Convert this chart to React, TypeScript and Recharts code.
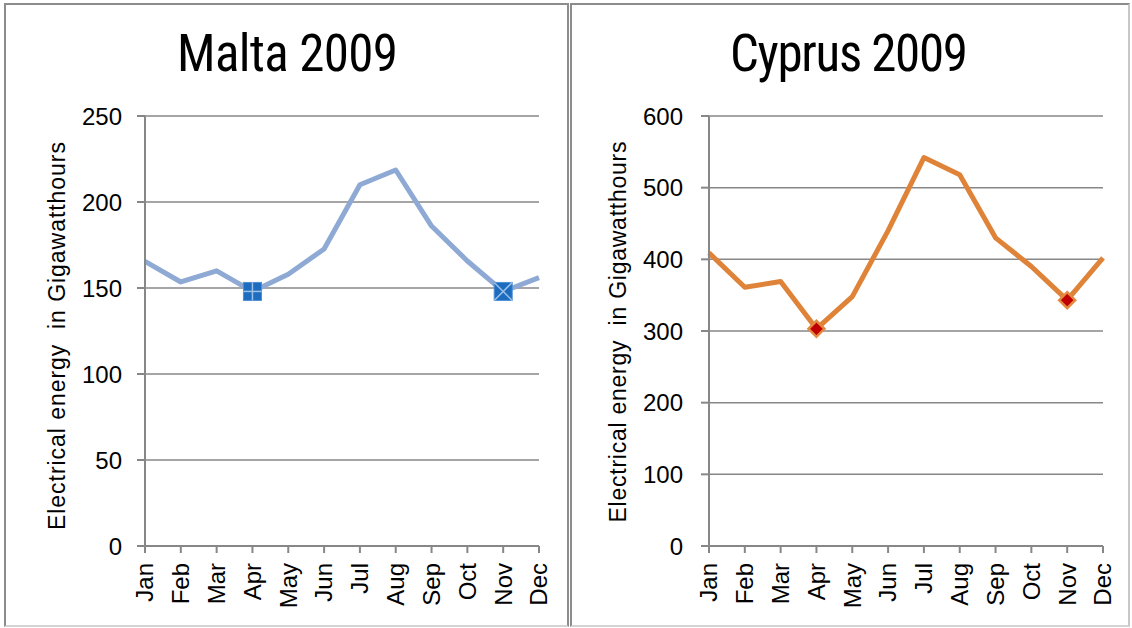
import React from 'react';
import { LineChart, Line, XAxis, YAxis, CartesianGrid } from 'recharts';

const months = ['Jan', 'Feb', 'Mar', 'Apr', 'May', 'Jun', 'Jul', 'Aug', 'Sep', 'Oct', 'Nov', 'Dec'];
const maltaValues = [165.5, 153.5, 160, 148, 158, 172.7, 210, 218.6, 186, 165.7, 148, 156];
const cyprusValues = [409, 361, 369, 303, 348, 440, 542, 518, 430, 390, 343, 402];
const maltaTicks = [0, 50, 100, 150, 200, 250];
const cyprusTicks = [0, 100, 200, 300, 400, 500, 600];
const maltaMarkers: Record<string, string> = { Apr: 'plus', Nov: 'cross' };
const cyprusMarked = ['Apr', 'Nov'];
const maltaTitle = 'Malta 2009';
const cyprusTitle = 'Cyprus 2009';
const yLabel = 'Electrical energy  in Gigawatthours';

const maltaData = months.map((m, i) => ({ month: m, value: maltaValues[i] }));
const cyprusData = months.map((m, i) => ({ month: m, value: cyprusValues[i] }));

const AXIS = '#878787';
const FONT = "'Liberation Sans', Arial, sans-serif";
const TITLE_FONT = "'Liberation Sans Narrow', 'Roboto Condensed', 'Liberation Sans', sans-serif";

const XTick = (props: any) => {
  const { x, y, payload } = props;
  return (
    <text
      x={x}
      y={y}
      transform={`rotate(-90 ${x} ${y})`}
      textAnchor="end"
      dy="0.35em"
      fontSize={24}
      fill="#000"
      fontFamily={FONT}
    >
      {payload.value}
    </text>
  );
};

const maltaDot = (props: any) => {
  const { cx, cy, payload, index } = props;
  const kind = maltaMarkers[payload.month];
  if (!kind || cx == null) return <g key={`md${index}`} />;
  const h = 9;
  return (
    <g key={`md${index}`}>
      <rect x={cx - h} y={cy - h} width={2 * h} height={2 * h} fill="#1C6DC0" stroke="#4d8fd3" strokeWidth={1} />
      {kind === 'plus' ? (
        <g stroke="#9fc0e6" strokeWidth={1.5}>
          <line x1={cx - h} y1={cy} x2={cx + h} y2={cy} />
          <line x1={cx} y1={cy - h} x2={cx} y2={cy + h} />
        </g>
      ) : (
        <g stroke="#9fc0e6" strokeWidth={1.5}>
          <line x1={cx - h} y1={cy - h} x2={cx + h} y2={cy + h} />
          <line x1={cx - h} y1={cy + h} x2={cx + h} y2={cy - h} />
        </g>
      )}
    </g>
  );
};

const cyprusDot = (props: any) => {
  const { cx, cy, payload, index } = props;
  if (!cyprusMarked.includes(payload.month) || cx == null) return <g key={`cd${index}`} />;
  const h = 8;
  return (
    <polygon
      key={`cd${index}`}
      points={`${cx},${cy - h} ${cx + h},${cy} ${cx},${cy + h} ${cx - h},${cy}`}
      fill="#C00000"
      stroke="#E38A3F"
      strokeWidth={2.5}
    />
  );
};

const Panel = ({ left, width, rightColor }: { left: number; width: number; rightColor: string }) => (
  <div
    style={{
      position: 'absolute',
      left,
      top: 3,
      width,
      height: 624,
      boxSizing: 'border-box',
      borderTop: '2px solid #8c8c8c',
      borderLeft: '2px solid #8c8c8c',
      borderRight: `2px solid ${rightColor}`,
      borderBottom: '2px solid #d4d4d4',
    }}
  />
);

export default function App() {
  return (
    <div style={{ position: 'absolute', left: 0, top: 0, width: 1132, height: 628, background: '#fff', overflow: 'hidden' }}>
      <Panel left={4} width={565} rightColor="#8c8c8c" />
      <Panel left={570} width={560} rightColor="#c8c8c8" />

      <div style={{ position: 'absolute', left: 0, top: 0 }}>
        <LineChart width={570} height={628} data={maltaData} margin={{ top: 116, right: 31, bottom: 12, left: 85 }}>
          <CartesianGrid vertical={false} stroke={AXIS} strokeWidth={1.5} />
          <XAxis
            dataKey="month"
            interval={0}
            height={70}
            axisLine={{ stroke: AXIS, strokeWidth: 2 }}
            tickLine={{ stroke: AXIS, strokeWidth: 2 }}
            tickSize={7}
            tickMargin={10}
            tick={<XTick />}
          />
          <YAxis
            width={60}
            domain={[0, 250]}
            ticks={maltaTicks}
            interval={0}
            axisLine={{ stroke: AXIS, strokeWidth: 2 }}
            tickLine={{ stroke: AXIS, strokeWidth: 2 }}
            tickSize={8}
            tickMargin={15}
            tick={{ fill: '#000', fontSize: 24, fontFamily: FONT }}
          />
          <Line
            type="linear"
            dataKey="value"
            stroke="#8EA9D3"
            strokeWidth={5}
            strokeLinejoin="round"
            dot={maltaDot}
            activeDot={false}
            isAnimationActive={false}
          />
        </LineChart>
      </div>

      <div style={{ position: 'absolute', left: 570, top: 0 }}>
        <LineChart width={562} height={628} data={cyprusData} margin={{ top: 116, right: 29, bottom: 12, left: 79 }}>
          <CartesianGrid vertical={false} stroke={AXIS} strokeWidth={1.5} />
          <XAxis
            dataKey="month"
            interval={0}
            height={70}
            axisLine={{ stroke: AXIS, strokeWidth: 2 }}
            tickLine={{ stroke: AXIS, strokeWidth: 2 }}
            tickSize={7}
            tickMargin={10}
            tick={<XTick />}
          />
          <YAxis
            width={60}
            domain={[0, 600]}
            ticks={cyprusTicks}
            interval={0}
            axisLine={{ stroke: AXIS, strokeWidth: 2 }}
            tickLine={{ stroke: AXIS, strokeWidth: 2 }}
            tickSize={8}
            tickMargin={18}
            tick={{ fill: '#000', fontSize: 24, fontFamily: FONT }}
          />
          <Line
            type="linear"
            dataKey="value"
            stroke="#DF8338"
            strokeWidth={5}
            strokeLinejoin="round"
            dot={cyprusDot}
            activeDot={false}
            isAnimationActive={false}
          />
        </LineChart>
      </div>

      <svg width={1132} height={628} style={{ position: 'absolute', left: 0, top: 0, pointerEvents: 'none' }}>
        <text x={287.5} y={71} textAnchor="middle" fontSize={51} fontFamily={TITLE_FONT} fill="#000" textLength={221} lengthAdjust="spacing">
          {maltaTitle}
        </text>
        <text x={849} y={71} textAnchor="middle" fontSize={51} fontFamily={TITLE_FONT} fill="#000" textLength={238} lengthAdjust="spacing">
          {cyprusTitle}
        </text>
        <text
          transform="translate(65 336) rotate(-90)"
          textAnchor="middle"
          fontSize={23}
          fontFamily={FONT}
          fill="#000"
          textLength={388}
          lengthAdjust="spacing"
          style={{ whiteSpace: 'pre' }}
        >
          {yLabel}
        </text>
        <text
          transform="translate(626 332) rotate(-90)"
          textAnchor="middle"
          fontSize={23}
          fontFamily={FONT}
          fill="#000"
          textLength={381}
          lengthAdjust="spacing"
          style={{ whiteSpace: 'pre' }}
        >
          {yLabel}
        </text>
      </svg>
    </div>
  );
}
